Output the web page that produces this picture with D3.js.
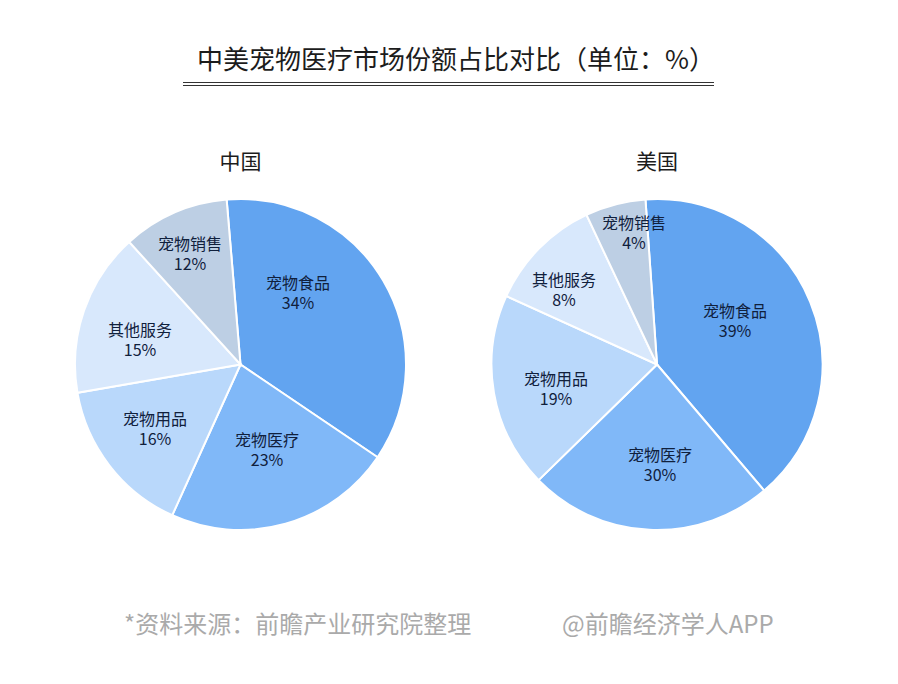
<!DOCTYPE html>
<html>
<head>
<meta charset="utf-8">
<script src="https://cdn.jsdelivr.net/npm/d3@7"></script>
<style>
  html, body { margin: 0; padding: 0; background: #fff; }
  svg { display: block; }
  text { font-family: "Noto Sans CJK SC", "Noto Sans", sans-serif; }
</style>
</head>
<body>
<div id="chart"></div>
<script>
const titleText = "中美宠物医疗市场份额占比对比（单位：%）";
const sourceText = "*资料来源：前瞻产业研究院整理";
const brandText = "@前瞻经济学人APP";

const categories = ["宠物食品", "宠物医疗", "宠物用品", "其他服务", "宠物销售"];

// printed labels
const chinaLabels = [34, 23, 16, 15, 12];
const usLabels = [39, 30, 19, 8, 4];

// the drawn slices do not follow the printed numbers, so these are read off the angles
const chinaSlices = [35.8, 22.3, 15.5, 16, 10.4];
const usSlices = [39.9, 23.9, 19.1, 11.2, 5.9];

const colors = ["#62a4f0", "#80b8f8", "#b9d8fb", "#d8e8fc", "#bdcfe4"];

const width = 898, height = 684;
const radius = 165.5;

const svg = d3.select("#chart").append("svg")
  .attr("width", width)
  .attr("height", height);

// title and double rule
svg.append("text")
  .attr("x", 456).attr("y", 69)
  .attr("text-anchor", "middle")
  .attr("font-size", 26)
  .attr("fill", "#1c1c1c")
  .text(titleText);

[82.5, 85.5].forEach(function (y) {
  svg.append("line")
    .attr("x1", 183).attr("x2", 714)
    .attr("y1", y).attr("y2", y)
    .attr("stroke", "#333")
    .attr("stroke-width", 1);
});

const arc = d3.arc().innerRadius(0).outerRadius(radius);

function drawPie(cx, cy, name, slices, labels, startDeg, labelOffsets) {
  const start = startDeg * Math.PI / 180;
  const pie = d3.pie().sort(null)
    .startAngle(start)
    .endAngle(start + 2 * Math.PI);

  svg.append("text")
    .attr("x", cx).attr("y", 169)
    .attr("text-anchor", "middle")
    .attr("font-size", 21)
    .attr("fill", "#1c1c1c")
    .text(name);

  const g = svg.append("g").attr("transform", "translate(" + cx + "," + cy + ")");

  g.selectAll("path")
    .data(pie(slices))
    .enter()
    .append("path")
    .attr("d", arc)
    .attr("fill", function (d, i) { return colors[i]; })
    .attr("stroke", "#fff")
    .attr("stroke-width", 2);

  // one text per slice, name and percent as two lines
  const label = g.selectAll("text.label")
    .data(categories)
    .enter()
    .append("text")
    .attr("class", "label")
    .attr("transform", function (d, i) {
      return "translate(" + labelOffsets[i][0] + "," + labelOffsets[i][1] + ")";
    })
    .attr("text-anchor", "middle")
    .attr("font-size", 16)
    .attr("fill", "#10203c");

  label.append("tspan")
    .attr("x", 0).attr("y", -2)
    .text(function (d) { return d; });

  label.append("tspan")
    .attr("x", 0).attr("y", 18)
    .text(function (d, i) { return labels[i] + "%"; });
}

drawPie(240.5, 364.5, "中国", chinaSlices, chinaLabels, -4.8,
  [[57.5, -74], [26.5, 83], [-85.5, 62], [-100.5, -27], [-50.5, -113]]);
drawPie(657, 364.5, "美国", usSlices, usLabels, -4,
  [[78, -46], [3, 98], [-101, 22], [-93, -77], [-23, -134]]);

// footer
svg.append("text")
  .attr("x", 124).attr("y", 633)
  .attr("font-size", 24)
  .attr("fill", "#aaaaaa")
  .text(sourceText);

svg.append("text")
  .attr("x", 562).attr("y", 633)
  .attr("font-size", 24)
  .attr("fill", "#aaaaaa")
  .text(brandText);
</script>
</body>
</html>
